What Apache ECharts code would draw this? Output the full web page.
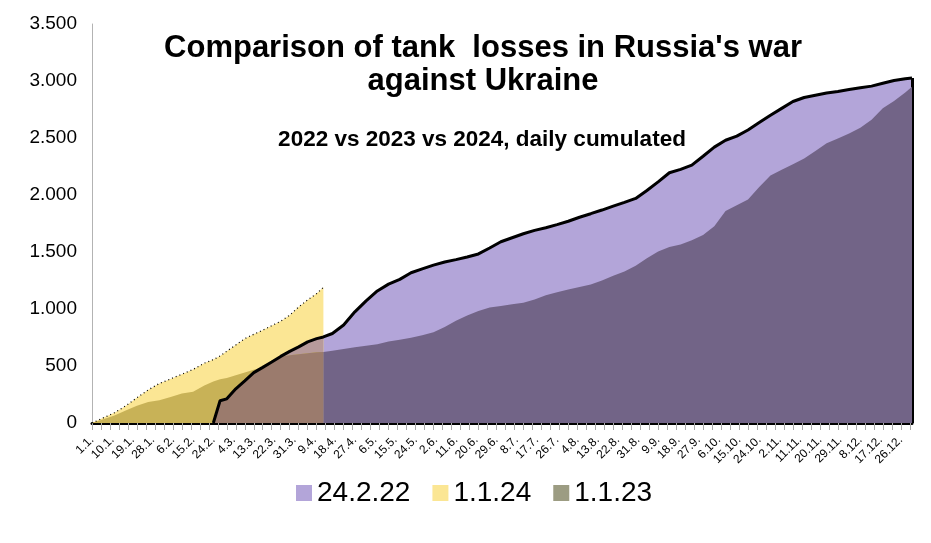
<!DOCTYPE html>
<html>
<head>
<meta charset="utf-8">
<script src="https://cdn.jsdelivr.net/npm/echarts@6/dist/echarts.min.js"></script>
<style>html,body{margin:0;padding:0;background:#fff}#c{width:931px;height:543px}</style>
</head>
<body>
<div id="c"></div>
<script>
// Daily categories of a leap year (2024 calendar)
const monthLengths = [31,29,31,30,31,30,31,31,30,31,30,31];
const categories = [];
monthLengths.forEach((n, m) => { for (let d = 1; d <= n; d++) categories.push(d + '.' + (m + 1) + '.'); });

const sampleDates = ['1.1.','6.1.','11.1.','16.1.','21.1.','26.1.','31.1.','5.2.','10.2.','15.2.','20.2.',
  '24.2.','27.2.',
  '1.3.','5.3.','9.3.','13.3.','17.3.','21.3.','25.3.','29.3.','2.4.','6.4.','10.4.',
  '13.4.',
  '17.4.','22.4.','27.4.','2.5.','7.5.','12.5.','17.5.','22.5.','27.5.','1.6.','6.6.','11.6.','16.6.','21.6.','26.6.',
  '1.7.','6.7.','11.7.','16.7.','21.7.','26.7.','31.7.','5.8.','10.8.','15.8.','20.8.','25.8.','30.8.',
  '4.9.','9.9.','14.9.','19.9.','24.9.','29.9.','4.10.','9.10.','14.10.','19.10.','24.10.','29.10.',
  '3.11.','8.11.','13.11.','18.11.','23.11.','28.11.','3.12.','8.12.','13.12.','18.12.','23.12.','28.12.',
  '31.12.'];

// Series: 1.1.24 (ends 13.4.)
const s2024 = [0,45,90,150,222,290,347,387,428,470,525,
  556,588,
  630,684,740,778,814,854,893,945,1018,1080,1135,
  1190];

// Series: 1.1.23
const s2023 = [0,32,65,110,152,185,199,228,258,275,328,
  363,384,
  395,418,443,468,490,545,582,594,604,612,620,
  623,
  633,649,665,677,690,714,730,747,770,795,843,898,943,983,1014,
  1027,1041,1055,1084,1120,1146,1170,1192,1215,1250,1291,1328,1380,
  1445,1504,1543,1565,1602,1650,1725,1860,1910,1960,2070,2170,
  2222,2270,2320,2385,2454,2495,2540,2590,2660,2760,2825,2900,
  2950];

// Series: 24.2.22 (starts 24.2.)
const s2022 = [null,null,null,null,null,null,null,null,null,null,null,
  0,195,
  212,300,370,442,488,535,584,628,668,712,740,
  755,
  785,860,975,1071,1158,1218,1260,1318,1352,1385,1412,1433,1456,1483,1535,
  1590,1625,1660,1690,1713,1740,1770,1805,1836,1868,1902,1935,1970,
  2040,2115,2195,2225,2262,2340,2420,2480,2516,2570,2635,2700,
  2760,2820,2855,2875,2895,2908,2925,2940,2955,2980,3005,3020,
  3026];

const v = (arr, i) => (arr[i] === undefined ? null : arr[i]);
function build(fn) {
  const out = [];
  sampleDates.forEach((d, i) => { const r = fn(i); if (r !== null) out.push([d, r]); });
  return out;
}
const last2024 = s2024.length - 1;
const dP = build(i => v(s2022, i));
const dY = build(i => v(s2024, i));
const dPY = build(i => (v(s2022, i) !== null && v(s2024, i) !== null) ? Math.min(s2022[i], s2024[i]) : null);
const dOY = build(i => (v(s2024, i) !== null) ? Math.min(s2023[i], s2024[i]) : null);
const dBrown = build(i => (v(s2022, i) !== null && v(s2024, i) !== null) ? Math.min(s2023[i], s2022[i], s2024[i]) : null);
const dDark = build(i => (v(s2022, i) !== null && i >= last2024) ? Math.min(s2023[i], s2022[i]) : null);

const C = {
  purple: '#b3a5d9', yellow: '#fbe694', py: '#b79a9b', oy: '#c8b257', brown: '#9b7b6d', dark: '#726487', olive: '#9c9c82'
};
function area(name, data, color, z) {
  return { name, type: 'line', data, showSymbol: false, symbol: 'none', z,
    lineStyle: { width: 0 }, itemStyle: { color }, areaStyle: { color, opacity: 1 }, silent: true, animation: false };
}
const font = 'Liberation Sans, Arial, sans-serif';
const chart = echarts.init(document.getElementById('c'), null, { renderer: 'canvas' });
const lastP = s2022[s2022.length - 1];
chart.setOption({
  animation: false,
  backgroundColor: '#fff',
  textStyle: { fontFamily: font },
  title: [
    { text: "Comparison of tank  losses in Russia's war\nagainst Ukraine", left: 478, top: 27, textAlign: 'center',
      textStyle: { fontFamily: font, fontSize: 31, fontWeight: 'bold', color: '#000', lineHeight: 33 } },
    { text: '2022 vs 2023 vs 2024, daily cumulated', left: 477, top: 123, textAlign: 'center',
      textStyle: { fontFamily: font, fontSize: 22.5, fontWeight: 'bold', color: '#000' } }
  ],
  legend: {
    left: 291, top: 474, itemWidth: 16, itemHeight: 16, itemGap: 22, icon: 'rect',
    textStyle: { fontFamily: font, fontSize: 28, color: '#000' },
    data: [
      { name: '24.2.22', itemStyle: { color: C.purple } },
      { name: '1.1.24', itemStyle: { color: C.yellow } },
      { name: '1.1.23', itemStyle: { color: C.olive } }
    ],
    selectedMode: false
  },
  grid: { left: 92, right: 19, top: 24, bottom: 120 },
  xAxis: {
    type: 'category', data: categories, boundaryGap: false,
    axisLine: { lineStyle: { color: '#000', width: 3 } },
    axisTick: { show: true, interval: 3, length: 7, lineStyle: { color: '#aaa' } },
    axisLabel: { interval: 8, rotate: 45, fontSize: 12, color: '#000', fontFamily: font, margin: 15 }
  },
  yAxis: {
    type: 'value', min: 0, max: 3500, interval: 500,
    axisLine: { show: true, lineStyle: { color: '#b3b3b3', width: 1 } },
    axisTick: { show: false }, splitLine: { show: false },
    axisLabel: { fontSize: 19, color: '#000', fontFamily: font, margin: 15,
      formatter: val => val >= 1000 ? Math.floor(val / 1000) + '.' + String(val % 1000).padStart(3, '0') : String(val) }
  },
  series: [
    area('24.2.22', dP, C.purple, 1),
    area('1.1.24', dY, C.yellow, 2),
    area('py', dPY, C.py, 3),
    area('oy', dOY, C.oy, 4),
    area('brown', dBrown, C.brown, 5),
    Object.assign(area('1.1.23', dDark, C.dark, 6), { itemStyle: { color: C.olive } }),
    { name: 'line2022', type: 'line', data: dP, showSymbol: false, symbol: 'none', z: 10, silent: true,
      lineStyle: { color: '#000', width: 3 },
      markLine: { symbol: 'none', silent: true, label: { show: false },
        lineStyle: { color: '#000', width: 3, type: 'solid' },
        data: [[{ coord: ['31.12.', 0] }, { coord: ['31.12.', lastP] }]] } },
    { name: 'line2024', type: 'line', data: dY, showSymbol: false, symbol: 'none', z: 9, silent: true,
      lineStyle: { color: '#000', width: 1.2, type: [1, 3] } }
  ]
});
</script>
</body>
</html>
